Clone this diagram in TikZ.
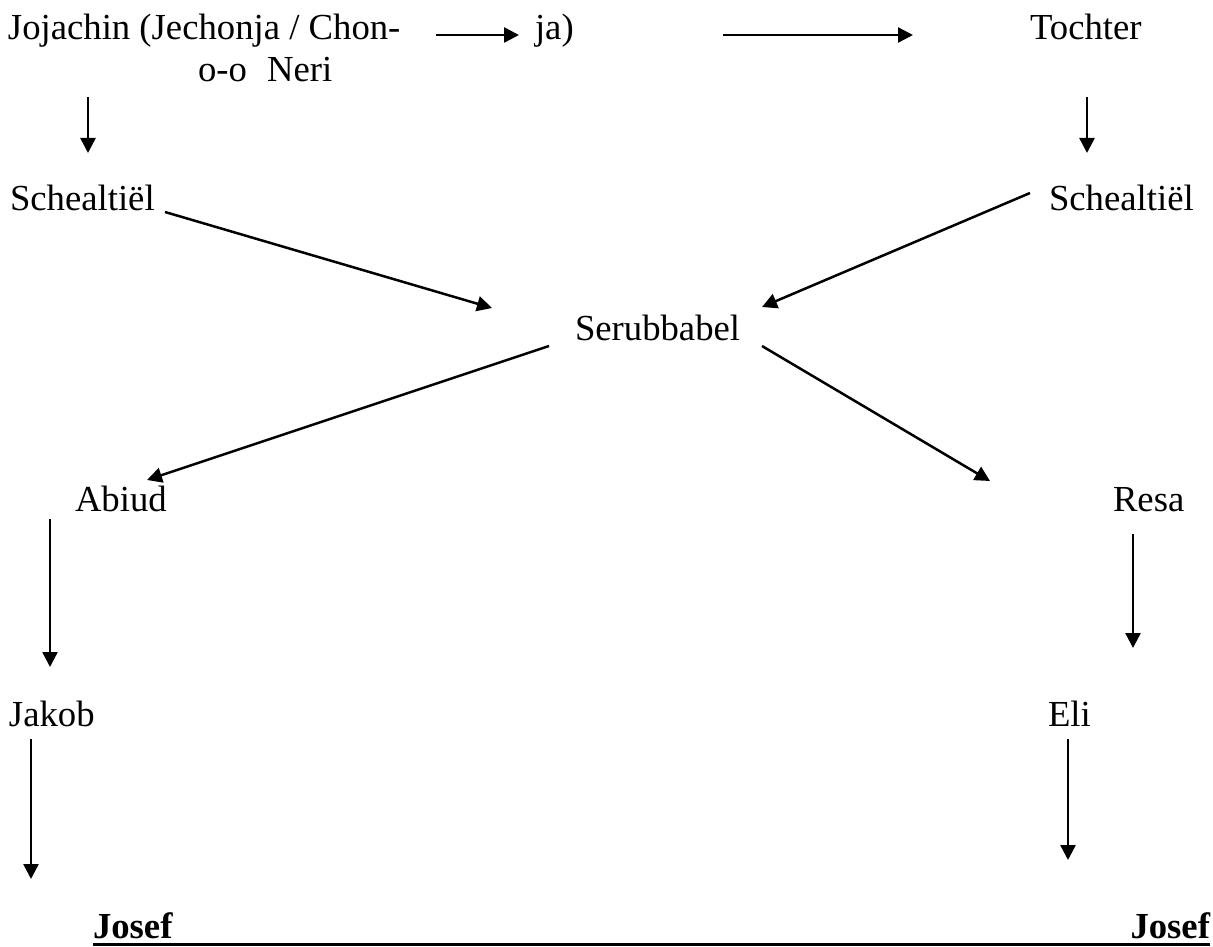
\documentclass[tikz,border=0pt]{standalone}
\usepackage{fontspec}
\setmainfont{Liberation Serif}
\usetikzlibrary{arrows.meta}
\begin{document}
\begin{tikzpicture}[x=1pt,y=-1pt,
  lbl/.style={anchor=base west,inner sep=0pt,outer sep=0pt,font=\fontsize{36.7}{42}\selectfont},
  lblb/.style={lbl,font=\fontsize{36.7}{42}\selectfont\bfseries},
  arr/.style={line width=2.5pt,-{Triangle[length=15pt,width=15pt]}}]
\useasboundingbox (0,0) rectangle (1213,947);
% texts
\node[lbl] (joj) at (8,40) {Jojachin (Jechonja / Chon-};
\node[lbl] (ja) at (535,40) {ja)};
\node[lbl] (toch) at (1030,40) {Tochter};
\node[lbl] (oo) at (198,82) {o-o};
\node[lbl] (neri) at (267,82) {Neri};
\node[lbl] (schl) at (10,211) {Schealtiël};
\node[lbl] (schr) at (1049,211) {Schealtiël};
\node[lbl] (ser) at (575,340) {Serubbabel};
\node[lbl] (abi) at (75,511) {Abiud};
\node[lbl] (res) at (1113,511) {Resa};
\node[lbl] (jak) at (9,726) {Jakob};
\node[lbl] (eli) at (1048,726) {Eli};
\node[lblb] (josl) at (93,938) {Josef};
\node[lblb,anchor=base east] (josr) at (1210,938) {Josef};
% arrow end points
\coordinate (a1s) at (436,35);  \coordinate (a1e) at (519,35);
\coordinate (a2s) at (723,35);  \coordinate (a2e) at (913,35);
\coordinate (a3s) at (88,97);   \coordinate (a3e) at (88,153);
\coordinate (a4s) at (1087,97); \coordinate (a4e) at (1087,153);
\coordinate (a5s) at (165,212); \coordinate (a5e) at (492,308);
\coordinate (a6s) at (1030,193);\coordinate (a6e) at (762,307);
\coordinate (a7s) at (549,346); \coordinate (a7e) at (147,480);
\coordinate (a8s) at (762,346); \coordinate (a8e) at (990,481);
\coordinate (a9s) at (50,519);  \coordinate (a9e) at (50,667);
\coordinate (a10s) at (1133,534); \coordinate (a10e) at (1133,648);
\coordinate (a11s) at (31,739); \coordinate (a11e) at (31,879);
\coordinate (a12s) at (1068,739); \coordinate (a12e) at (1068,860);
\coordinate (uls) at (93,944.5); \coordinate (ule) at (1210,944.5);
% arrows
\draw[arr] (a1s) -- (a1e);
\draw[arr] (a2s) -- (a2e);
\draw[arr] (a3s) -- (a3e);
\draw[arr] (a4s) -- (a4e);
\draw[arr] (a5s) -- (a5e);
\draw[arr] (a6s) -- (a6e);
\draw[arr] (a7s) -- (a7e);
\draw[arr] (a8s) -- (a8e);
\draw[arr] (a9s) -- (a9e);
\draw[arr] (a10s) -- (a10e);
\draw[arr] (a11s) -- (a11e);
\draw[arr] (a12s) -- (a12e);
\draw[line width=2.5pt] (uls) -- (ule);
\end{tikzpicture}
\end{document}
